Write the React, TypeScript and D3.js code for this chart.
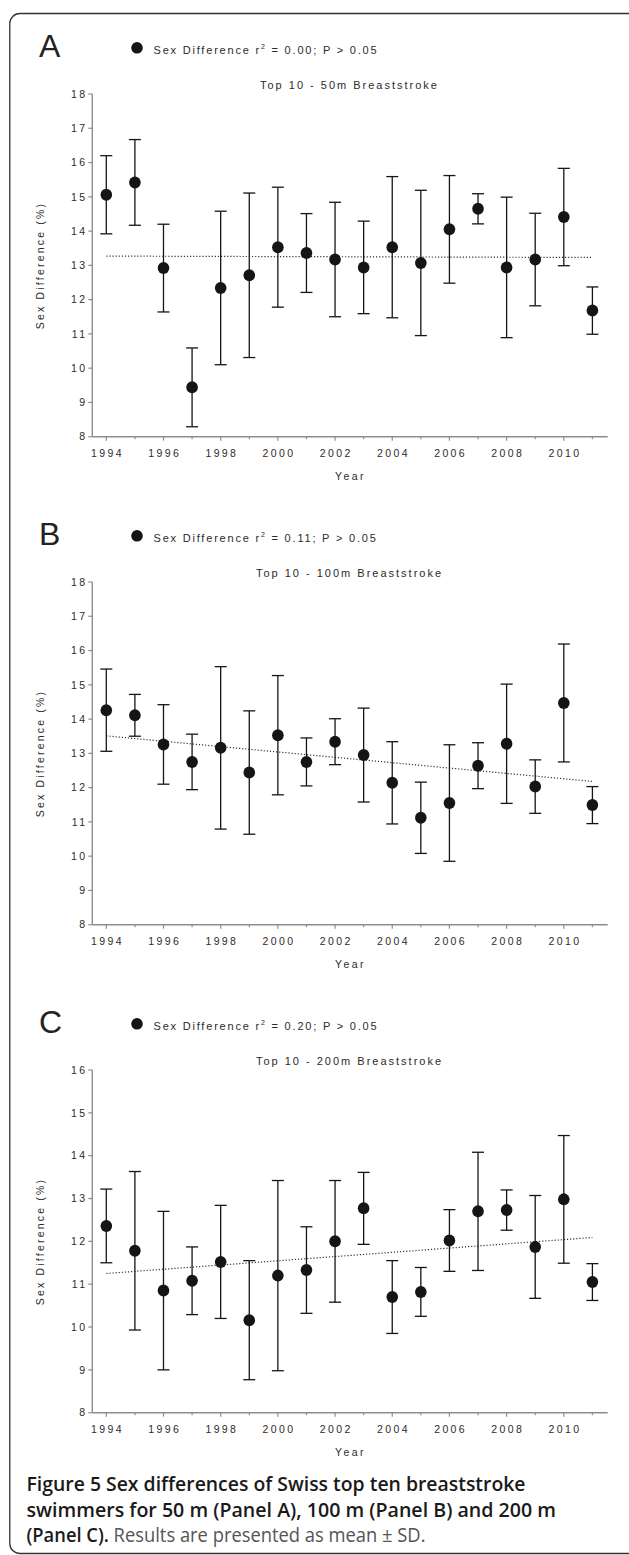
import React from 'react';
import * as d3 from 'd3';

// years on the x axis
const years = [1994, 1995, 1996, 1997, 1998, 1999, 2000, 2001, 2002, 2003, 2004, 2005, 2006, 2007, 2008, 2009, 2010, 2011];

// Panel A - 50m
const meanA = [15.06, 15.42, 12.92, 9.44, 12.34, 12.71, 13.53, 13.36, 13.17, 12.94, 13.53, 13.07, 14.05, 14.65, 12.94, 13.17, 14.41, 11.68];
const sdA = [1.14, 1.25, 1.28, 1.15, 2.24, 2.4, 1.75, 1.15, 1.67, 1.35, 2.06, 2.12, 1.57, 0.44, 2.05, 1.35, 1.42, 0.69];
const trendA = [13.27, 13.23];

// Panel B - 100m
const meanB = [14.26, 14.11, 13.26, 12.75, 13.16, 12.44, 13.53, 12.75, 13.34, 12.95, 12.14, 11.12, 11.55, 12.64, 13.28, 12.03, 14.47, 11.49];
const sdB = [1.2, 0.61, 1.16, 0.81, 2.37, 1.8, 1.74, 0.7, 0.67, 1.37, 1.2, 1.04, 1.7, 0.67, 1.74, 0.78, 1.72, 0.54];
const trendB = [13.51, 12.18];

// Panel C - 200m
const meanC = [12.36, 11.78, 10.85, 11.08, 11.52, 10.16, 11.2, 11.33, 12.0, 12.77, 10.7, 10.82, 12.02, 12.7, 12.73, 11.87, 12.98, 11.05];
const sdC = [0.86, 1.85, 1.85, 0.79, 1.32, 1.39, 2.22, 1.01, 1.42, 0.84, 0.85, 0.57, 0.72, 1.38, 0.47, 1.2, 1.49, 0.43];
const trendC = [11.25, 12.09];

const panelLetters = ['A', 'B', 'C'];
const panelR2 = ['0.00', '0.11', '0.20'];
const panelTitles = ['Top 10 - 50m Breaststroke', 'Top 10 - 100m Breaststroke', 'Top 10 - 200m Breaststroke'];
const panelYMax = [18, 18, 16];
const yMin = 8;

const captionLines = [
  'Figure 5 Sex differences of Swiss top ten breaststroke',
  'swimmers for 50 m (Panel A), 100 m (Panel B) and 200 m',
];

const FONT = "'Liberation Sans', Arial, Helvetica, sans-serif";
const AXIS_COLOR = '#8d8d8d';
const TEXT_COLOR = '#2b2b2b';
const INK = '#151515';

const W = 629;
const H = 1555;
const PANEL_STEP = 488;

const axisLeft = 92.3;
const axisRight = 607.7;
const plotTop = 94;
const plotBottom = 436.7;

const x = d3.scaleLinear().domain([1994, 2011]).range([106.3, 592.4]);

function Panel({ idx, means, sds, trend }) {
  const oy = idx * PANEL_STEP;
  const y = d3.scaleLinear().domain([yMin, panelYMax[idx]]).range([plotBottom, plotTop]);
  const yTicks = d3.range(yMin, panelYMax[idx] + 1);
  const ls = 2.4;
  return (
    <g transform={`translate(0, ${oy})`}>
      <text x={39} y={57} fontFamily={FONT} fontSize={32} fill="#222">{panelLetters[idx]}</text>
      <circle cx={137} cy={47.8} r={5.8} fill={INK} />
      <text x={153.5} y={54.3} fontFamily={FONT} fontSize={11} letterSpacing={1.8} fill={TEXT_COLOR}>
        Sex Difference r<tspan dy={-5} fontSize={7}>2</tspan><tspan dy={5}> = {panelR2[idx]}; P &gt; 0.05</tspan>
      </text>
      <text x={349.5} y={89.3} fontFamily={FONT} fontSize={11} letterSpacing={2} textAnchor="middle" fill={TEXT_COLOR}>
        {panelTitles[idx]}
      </text>

      {/* y axis */}
      <line x1={axisLeft} x2={axisLeft} y1={plotTop} y2={plotBottom} stroke={AXIS_COLOR} strokeWidth={1.4} />
      {yTicks.map(t => (
        <g key={t}>
          <line x1={axisLeft - 4} x2={axisLeft} y1={y(t)} y2={y(t)} stroke={AXIS_COLOR} strokeWidth={1.2} />
          <text x={85 + ls} y={y(t) + 3.7} fontFamily={FONT} fontSize={10.5} letterSpacing={ls} textAnchor="end" fill={TEXT_COLOR}>{t}</text>
        </g>
      ))}
      <text transform={`translate(43.5, 265.5) rotate(-90)`} fontFamily={FONT} fontSize={10.5} letterSpacing={2.2} textAnchor="middle" fill={TEXT_COLOR}>
        Sex Difference (%)
      </text>

      {/* x axis */}
      <line x1={axisLeft} x2={axisRight} y1={plotBottom} y2={plotBottom} stroke={AXIS_COLOR} strokeWidth={1.4} />
      {years.map(yr => (
        <line key={yr} x1={x(yr)} x2={x(yr)} y1={plotBottom} y2={plotBottom + (yr % 2 === 0 ? 4 : 2.5)} stroke={AXIS_COLOR} strokeWidth={1.2} />
      ))}
      {years.filter(yr => yr % 2 === 0).map(yr => (
        <text key={yr} x={x(yr) + ls / 2} y={457.3} fontFamily={FONT} fontSize={10.5} letterSpacing={ls} textAnchor="middle" fill={TEXT_COLOR}>{yr}</text>
      ))}
      <text x={350.5} y={480} fontFamily={FONT} fontSize={10.5} letterSpacing={2.4} textAnchor="middle" fill={TEXT_COLOR}>Year</text>

      {/* trend */}
      <line x1={x(1994)} x2={x(2011)} y1={y(trend[0])} y2={y(trend[1])} stroke="#333" strokeWidth={1.2} strokeDasharray="1.2 1.9" />

      {/* error bars and means */}
      {years.map((yr, i) => {
        const cx = x(yr);
        const hi = y(means[i] + sds[i]);
        const lo = y(means[i] - sds[i]);
        return (
          <g key={yr} stroke={INK} strokeWidth={1.3}>
            <line x1={cx} x2={cx} y1={hi} y2={lo} />
            <line x1={cx - 6} x2={cx + 6} y1={hi} y2={hi} />
            <line x1={cx - 6} x2={cx + 6} y1={lo} y2={lo} />
            <ellipse cx={cx} cy={y(means[i])} rx={5.8} ry={6} fill={INK} stroke="none" />
          </g>
        );
      })}
    </g>
  );
}

export default function App() {
  const capFont = "'Open Sans', 'Noto Sans', sans-serif";
  return (
    <svg width={W} height={H} style={{ position: 'absolute', left: 0, top: 0, background: '#fff' }}>
      <rect x={9.8} y={13.5} width={W + 20} height={1540} rx={10} ry={10} fill="none" stroke="#333" strokeWidth={1.3} />
      <Panel idx={0} means={meanA} sds={sdA} trend={trendA} />
      <Panel idx={1} means={meanB} sds={sdB} trend={trendB} />
      <Panel idx={2} means={meanC} sds={sdC} trend={trendC} />

      <text x={26.5} y={1491} fontFamily={capFont} fontSize={19.5} fontWeight={600} fill="#1a1a1a" textLength={499} lengthAdjust="spacingAndGlyphs">
        {captionLines[0]}
      </text>
      <text x={26.5} y={1516.5} fontFamily={capFont} fontSize={19.5} fontWeight={600} fill="#1a1a1a" textLength={529.5} lengthAdjust="spacingAndGlyphs">
        {captionLines[1]}
      </text>
      <text x={26.5} y={1542} fontFamily={capFont} fontSize={19.5} fill="#1a1a1a" textLength={399} lengthAdjust="spacingAndGlyphs">
        <tspan fontWeight={600}>(Panel C).</tspan>
        <tspan fill="#555" fontWeight={400}> Results are presented as mean ± SD.</tspan>
      </text>
    </svg>
  );
}
